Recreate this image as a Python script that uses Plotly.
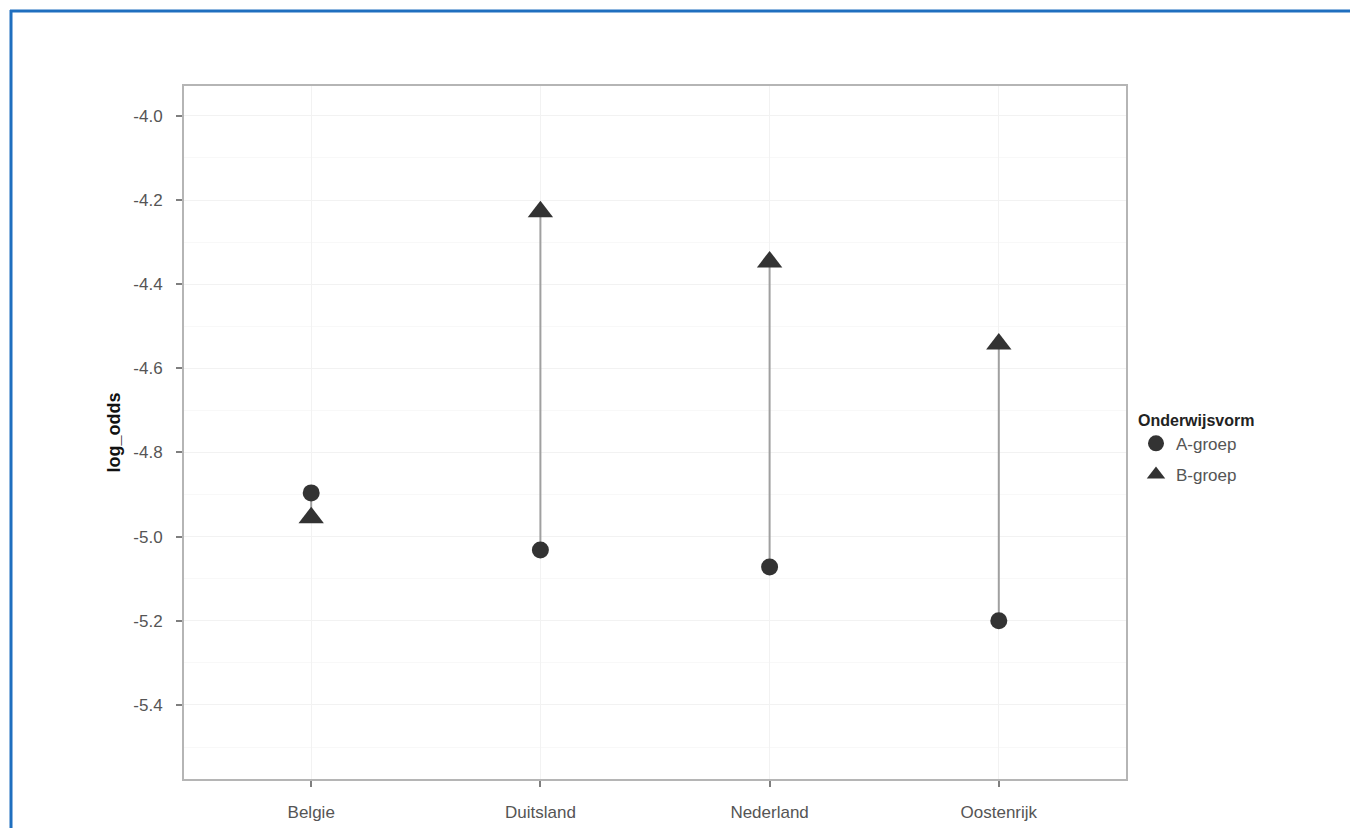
import plotly.graph_objects as go

countries = ["Belgie", "Duitsland", "Nederland", "Oostenrijk"]
a_groep = [-4.896, -5.032, -5.072, -5.200]
b_groep = [-4.955, -4.228, -4.347, -4.542]
y_ticks = [-4.0, -4.2, -4.4, -4.6, -4.8, -5.0, -5.2, -5.4]

OFF = 8  # page body margin
W, H = 1350, 820
ML, MR, MT, MB = 176, 232, 78, 49
pw, ph = W - ML - MR, H - MT - MB

def px_x(p):
    return (p - OFF - ML) / pw

def px_y(p):
    return (H - MB - (p - OFF)) / ph

seg_x, seg_y = [], []
for c, a, b in zip(countries, a_groep, b_groep):
    seg_x += [c, c, None]
    seg_y += [a, b, None]

fig = go.Figure()
fig.add_trace(go.Scatter(x=seg_x, y=seg_y, mode="lines",
                         line=dict(color="#a0a0a0", width=2),
                         showlegend=False, hoverinfo="skip"))
fig.add_trace(go.Scatter(x=countries, y=a_groep, mode="markers", name="A-groep",
                         legendgroup="a",
                         marker=dict(symbol="circle", size=17, color="#333333")))
fig.add_trace(go.Scatter(x=countries, y=b_groep, mode="markers", name="B-groep",
                         legendgroup="b",
                         marker=dict(symbol="triangle-up", size=22, color="#333333")))

font = "Liberation Sans, Arial, sans-serif"
fig.update_layout(
    width=W, height=H,
    margin=dict(l=ML, r=MR, t=MT, b=MB),
    paper_bgcolor="white", plot_bgcolor="white",
    font=dict(family=font, size=17, color="#555555"),
    legend=dict(title=dict(text="<b>Onderwijsvorm</b>", font=dict(size=16, color="#222222")),
                x=px_x(1136), y=px_y(405), xanchor="left", yanchor="top",
                font=dict(size=17, color="#555555"), itemsizing="trace",
                tracegroupgap=6, bgcolor="rgba(0,0,0,0)"),
    xaxis=dict(type="category", categoryorder="array", categoryarray=countries,
               range=[-0.555, 3.555], showgrid=True, gridcolor="#f2f2f2", gridwidth=1,
               showline=True, linecolor="#b5b5b5", linewidth=2, mirror=True,
               ticks="outside", ticklen=6, tickcolor="#7f7f7f", tickwidth=1.5,
               ticklabelstandoff=11, automargin=False,
               tickfont=dict(size=17, color="#555555"), zeroline=False),
    yaxis=dict(range=[-5.576, -3.929], tickvals=y_ticks,
               ticktext=[f"{v:.1f}" for v in y_ticks],
               showgrid=True, gridcolor="#f2f2f2", gridwidth=1,
               minor=dict(showgrid=True, gridcolor="#f8f8f8", dtick=0.1),
               showline=True, linecolor="#b5b5b5", linewidth=2, mirror=True,
               ticks="outside", ticklen=6, tickcolor="#7f7f7f", tickwidth=1.5,
               ticklabelstandoff=10, automargin=False,
               tickfont=dict(size=17, color="#555555"), zeroline=False,
               title=dict(text="<b>log_odds</b>", font=dict(size=18, color="#111111"), standoff=8)),
    shapes=[
        dict(type="line", xref="paper", yref="paper", x0=px_x(10), x1=px_x(W + 20),
             y0=px_y(11), y1=px_y(11), line=dict(color="#1f6fbf", width=3)),
        dict(type="line", xref="paper", yref="paper", x0=px_x(11), x1=px_x(11),
             y0=px_y(10), y1=px_y(H + 20), line=dict(color="#1f6fbf", width=3)),
    ],
)

fig.write_html("out.html")
